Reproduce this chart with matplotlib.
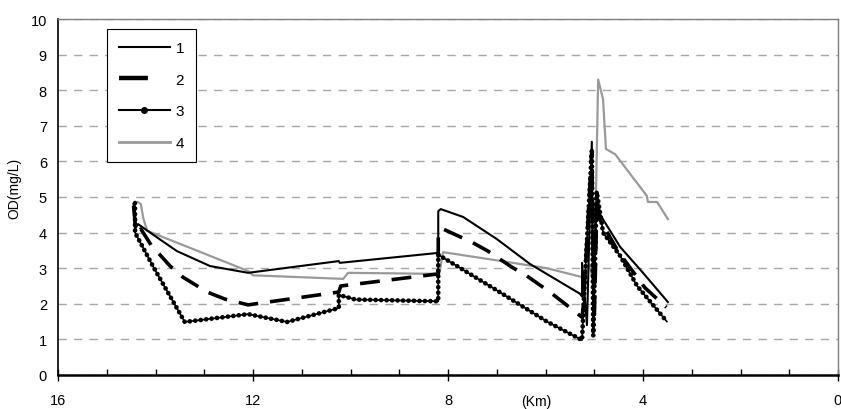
"""Perfil de OD a lo largo del río (4 escenarios)."""
import matplotlib
matplotlib.use("Agg")
import matplotlib.pyplot as plt
from matplotlib.lines import Line2D

plt.rcParams["font.family"] = ["Liberation Sans", "DejaVu Sans"]

# distancia (km) y oxígeno disuelto (mg/L)
s1_x = [14.45, 14.42, 14.36, 13.9, 13.56, 12.88, 12.1, 10.24, 10.22, 8.2, 8.2, 8.15,
        7.69, 7.0, 6.32, 5.29, 5.25, 5.25, 5.15, 5.05, 5.02, 4.97, 4.9, 4.47, 4.0, 3.49]
s1_y = [4.8, 4.1, 4.24, 3.8, 3.48, 3.06, 2.87, 3.2, 3.15, 3.43, 4.6, 4.66,
        4.44, 3.82, 3.12, 2.28, 2.2, 3.15, 1.4, 6.55, 1.2, 4.8, 4.55, 3.6, 2.87, 2.05]

s2_x = [14.45, 14.4, 14.3, 14.09, 13.7, 13.44, 12.94, 12.57, 12.1, 10.24, 10.2, 8.2,
        8.2, 8.1, 7.51, 7.18, 6.69, 6.38, 5.91, 5.6, 5.25, 5.22, 5.05, 5.0, 4.95, 4.9,
        4.5, 3.96, 3.52]
s2_y = [4.75, 4.0, 4.1, 3.65, 3.06, 2.75, 2.33, 2.13, 1.97, 2.33, 2.5, 2.84,
        4.0, 4.1, 3.73, 3.48, 3.03, 2.78, 2.33, 2.0, 1.62, 2.0, 6.3, 1.5, 4.6, 4.4,
        3.45, 2.45, 1.9]

s3_x = [14.42, 14.42, 14.05, 13.4, 12.1, 11.3, 10.24, 10.24, 9.9, 8.2, 8.2, 7.0,
        5.97, 5.25, 5.2, 5.05, 5.02, 4.95, 4.85, 4.82, 4.47, 4.12, 3.51]
s3_y = [4.83, 4.0, 3.05, 1.49, 1.71, 1.49, 1.88, 2.25, 2.12, 2.07, 3.38, 2.38,
        1.5, 0.98, 2.5, 6.3, 1.1, 5.15, 4.3, 4.0, 3.35, 2.5, 1.5]

s4_x = [14.36, 14.3, 14.25, 14.17, 12.1, 12.0, 10.15, 10.05, 8.18, 8.1, 7.14, 5.97,
        5.25, 5.1, 5.0, 4.92, 4.82, 4.76, 4.57, 3.92, 3.9, 3.71, 3.49]
s4_y = [4.86, 4.8, 4.4, 4.05, 2.92, 2.8, 2.7, 2.87, 2.84, 3.45, 3.25, 3.0,
        2.75, 3.1, 2.5, 8.3, 7.75, 6.35, 6.2, 5.03, 4.86, 4.86, 4.38]

labels = ["1", "2", "3", "4"]
y_ticks = list(range(0, 11))
x_major = [16, 12, 8, 4, 0]
x_minor = list(range(0, 17))

GRAY = "#9a9a9a"
DASH2 = (0, (5.5, 3.3))

fig = plt.figure(figsize=(8.41, 4.1), dpi=100)
ax = fig.add_axes([58 / 841, 34 / 410, 780 / 841, 356 / 410])

ax.plot(s4_x, s4_y, color=GRAY, lw=1.6, zorder=3)
ax.plot(s1_x, s1_y, color="black", lw=1.5, zorder=4)
ax.plot(s2_x, s2_y, color="black", lw=2.6, linestyle=DASH2, zorder=4)
ax.plot(s3_x, s3_y, color="black", lw=1.2, zorder=5)
ax.plot(s3_x, s3_y, color="black", lw=3.4, linestyle=(0, (0.01, 1.15)),
        dash_capstyle="round", zorder=5)

ax.set_xlim(16, 0)
ax.set_ylim(0, 10)
ax.set_yticks(y_ticks)
ax.set_xticks(x_major)
ax.set_xticks(x_minor, minor=True)
ax.tick_params(axis="x", which="major", direction="inout", length=8, width=1, labelsize=10.5, pad=9)
ax.tick_params(axis="x", which="minor", direction="in", length=4, width=1)
ax.tick_params(axis="y", length=0, labelsize=10.5, pad=8)

ax.grid(axis="y", color="#a8a8a8", lw=1, linestyle=(0, (6, 5.2)))
ax.set_axisbelow(True)
ax.spines["bottom"].set_linewidth(1.8)
ax.spines["left"].set_linewidth(1.2)
for s in ("top", "right"):
    ax.spines[s].set_color("#7f7f7f")
    ax.spines[s].set_linewidth(1)

fig.text(14 / 841, 1 - 188 / 410, "OD(mg/L)", rotation=90, ha="center", va="center", fontsize=10)
fig.text(536 / 841, 1 - 402 / 410, "(Km)", ha="center", va="center", fontsize=10)

handles = [
    Line2D([], [], color="black", lw=1.5),
    Line2D([], [], color="black", lw=3.2, linestyle=(0, (6.5, 20))),
    Line2D([], [], color="black", lw=1.5, marker="o", ms=4),
    Line2D([], [], color=GRAY, lw=2),
]
leg = ax.legend(handles, labels, loc="upper left", bbox_to_anchor=(107 / 841, 1 - 30 / 410),
                bbox_transform=fig.transFigure, borderaxespad=0, fontsize=11,
                handlelength=3.3, handletextpad=0.4, labelspacing=1.15, numpoints=1,
                borderpad=0.8, fancybox=False, framealpha=1, edgecolor="black")
leg.get_frame().set_linewidth(0.8)

plt.savefig("out.png", dpi=100)
plt.close()
